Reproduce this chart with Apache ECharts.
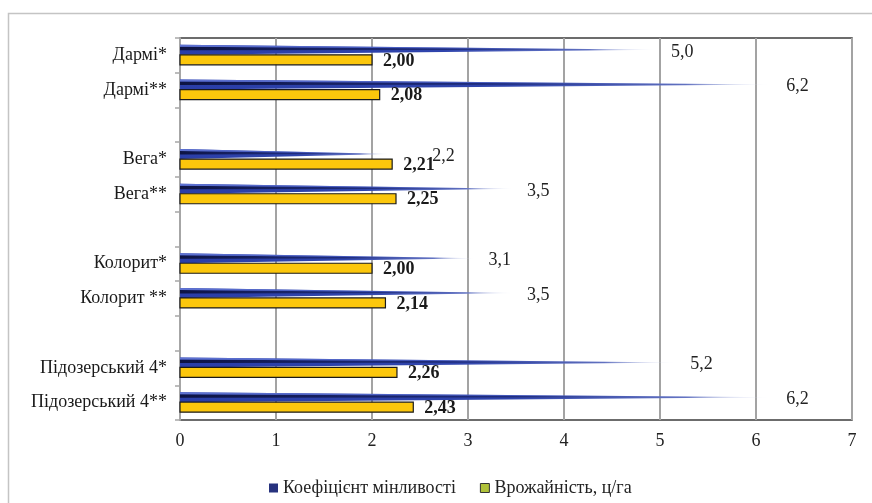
<!DOCTYPE html>
<html>
<head>
<meta charset="utf-8">
<script src="https://cdn.jsdelivr.net/npm/echarts@6/dist/echarts.min.js"></script>
<style>
  html, body { margin: 0; padding: 0; background: #fff; }
  #chart { width: 872px; height: 503px; }
</style>
</head>
<body>
<div id="chart"></div>
<script>
// Varieties (blank entries separate the groups)
const categories = ['Дармі*', 'Дармі**', ' ', 'Вега*', 'Вега**', '  ', 'Колорит*', 'Колорит **', '   ', 'Підозерський 4*', 'Підозерський 4**'];
// Coefficient of variation, %
const variation = [5.0, 6.2, null, 2.2, 3.5, null, 3.1, 3.5, null, 5.2, 6.2];
// Yield, c/ha
const yieldValues = [2.00, 2.08, null, 2.21, 2.25, null, 2.00, 2.14, null, 2.26, 2.43];
const xTicks = [0, 7, 1]; // min, max, step

const seriesNames = ['Коефіцієнт мінливості', 'Врожайність, ц/га'];
const FONT = 'Liberation Serif';
const FS = 18;

const toPairs = arr => arr.map((v, i) => (v == null ? null : [v, i])).filter(Boolean);
const fmt = (v, d) => v.toFixed(d).replace('.', ',');

// extra label shift for the one cone label that sits beside a yield label
const labelShift = { 3: { dx: 30, dy: 0 } };

function coneItem(params, api) {
  const v = api.value(0), i = api.value(1);
  const p0 = api.coord([0, i]);
  const p1 = api.coord([v, i]);
  const h = 10;
  const top = p0[1] - 10.5;
  const mid = top + h / 2;
  const x0 = p0[0], x1 = p1[0];
  const sh = labelShift[i] || { dx: 0, dy: 0 };
  return {
    type: 'group',
    children: [
      {
        type: 'polygon',
        shape: { points: [[x0, top], [x1, mid], [x0, top + h]] },
        style: {
          fill: new echarts.graphic.LinearGradient(0, 0, 1, 0, [
            { offset: 0, color: '#2a3ea8' },
            { offset: 0.55, color: '#2f44ac' },
            { offset: 0.85, color: '#6878c6' },
            { offset: 1, color: 'rgba(255,255,255,0.2)' }
          ])
        }
      },
      {
        type: 'polygon',
        shape: { points: [[x0, top + 2], [x1, mid], [x0, top + 5.5]] },
        style: {
          fill: new echarts.graphic.LinearGradient(0, 0, 1, 0, [
            { offset: 0, color: 'rgba(8,12,50,0.85)' },
            { offset: 0.6, color: 'rgba(15,22,80,0.45)' },
            { offset: 1, color: 'rgba(40,60,160,0)' }
          ])
        }
      },
      {
        type: 'polygon',
        shape: { points: [[x0, top], [x1, mid], [x0, top + 2]] },
        style: {
          fill: new echarts.graphic.LinearGradient(0, 0, 1, 0, [
            { offset: 0, color: 'rgba(95,115,210,1)' },
            { offset: 1, color: 'rgba(95,115,210,0)' }
          ])
        }
      },
      {
        type: 'text',
        x: x1 + 11 + sh.dx,
        y: mid + 2 + sh.dy,
        style: {
          text: fmt(v, 1),
          fontFamily: FONT,
          fontSize: FS,
          fill: '#222',
          verticalAlign: 'middle',
          align: 'left'
        }
      }
    ]
  };
}

function yieldItem(params, api) {
  const v = api.value(0), i = api.value(1);
  const p0 = api.coord([0, i]);
  const p1 = api.coord([v, i]);
  const h = 10;
  const top = p0[1] - 0.5;
  return {
    type: 'group',
    children: [
      {
        type: 'rect',
        shape: { x: p0[0], y: top, width: p1[0] - p0[0], height: h },
        style: { fill: '#fcc70c', stroke: '#1a1a1a', lineWidth: 1.2 }
      },
      {
        type: 'text',
        x: p1[0] + 11,
        y: top + h / 2 + 1,
        style: {
          text: fmt(v, 2),
          fontFamily: FONT,
          fontSize: FS,
          fontWeight: 'bold',
          fill: '#1a1a1a',
          verticalAlign: 'middle',
          align: 'left'
        }
      }
    ]
  };
}

const chart = echarts.init(document.getElementById('chart'), null, { renderer: 'canvas' });

chart.setOption({
  backgroundColor: '#fff',
  animation: false,
  textStyle: { fontFamily: FONT },
  graphic: [
    {
      type: 'rect',
      shape: { x: 8.5, y: 13.5, width: 900, height: 600 },
      style: { fill: 'none', stroke: '#c4c4c4', lineWidth: 1.5 },
      silent: true,
      z: -10
    }
  ],
  grid: {
    left: 180, right: 20, top: 38, bottom: 83,
    show: true,
    borderColor: '#3c3c3c',
    borderWidth: 1.5
  },
  legend: {
    left: 264,
    top: 474,
    itemWidth: 9,
    itemHeight: 9,
    itemGap: 24,
    textStyle: { fontFamily: FONT, fontSize: FS, color: '#222' },
    data: [
      { name: seriesNames[0], icon: 'rect', itemStyle: { color: '#27327e' } },
      { name: seriesNames[1], icon: 'rect', itemStyle: { color: '#b0c23a', borderColor: '#333', borderWidth: 1 } }
    ]
  },
  xAxis: {
    type: 'value',
    min: xTicks[0],
    max: xTicks[1],
    interval: xTicks[2],
    axisLine: { show: false },
    axisTick: { show: false },
    splitLine: { lineStyle: { color: '#a3a3a3', width: 2 } },
    axisLabel: { fontFamily: FONT, fontSize: FS, color: '#222', margin: 12 }
  },
  yAxis: {
    type: 'category',
    inverse: true,
    data: categories,
    axisLine: { show: true, lineStyle: { color: '#a6a6a6', width: 2 } },
    axisTick: { show: true, length: 5, lineStyle: { color: '#a6a6a6', width: 1.5 } },
    axisLabel: { fontFamily: FONT, fontSize: FS, color: '#1a1a1a', margin: 13 }
  },
  series: [
    {
      name: seriesNames[0],
      type: 'custom',
      renderItem: coneItem,
      encode: { x: 0, y: 1 },
      itemStyle: { color: '#27327e' },
      data: toPairs(variation),
      z: 3
    },
    {
      name: seriesNames[1],
      type: 'custom',
      renderItem: yieldItem,
      encode: { x: 0, y: 1 },
      itemStyle: { color: '#b0c23a' },
      data: toPairs(yieldValues),
      z: 4
    }
  ]
});
</script>
</body>
</html>
